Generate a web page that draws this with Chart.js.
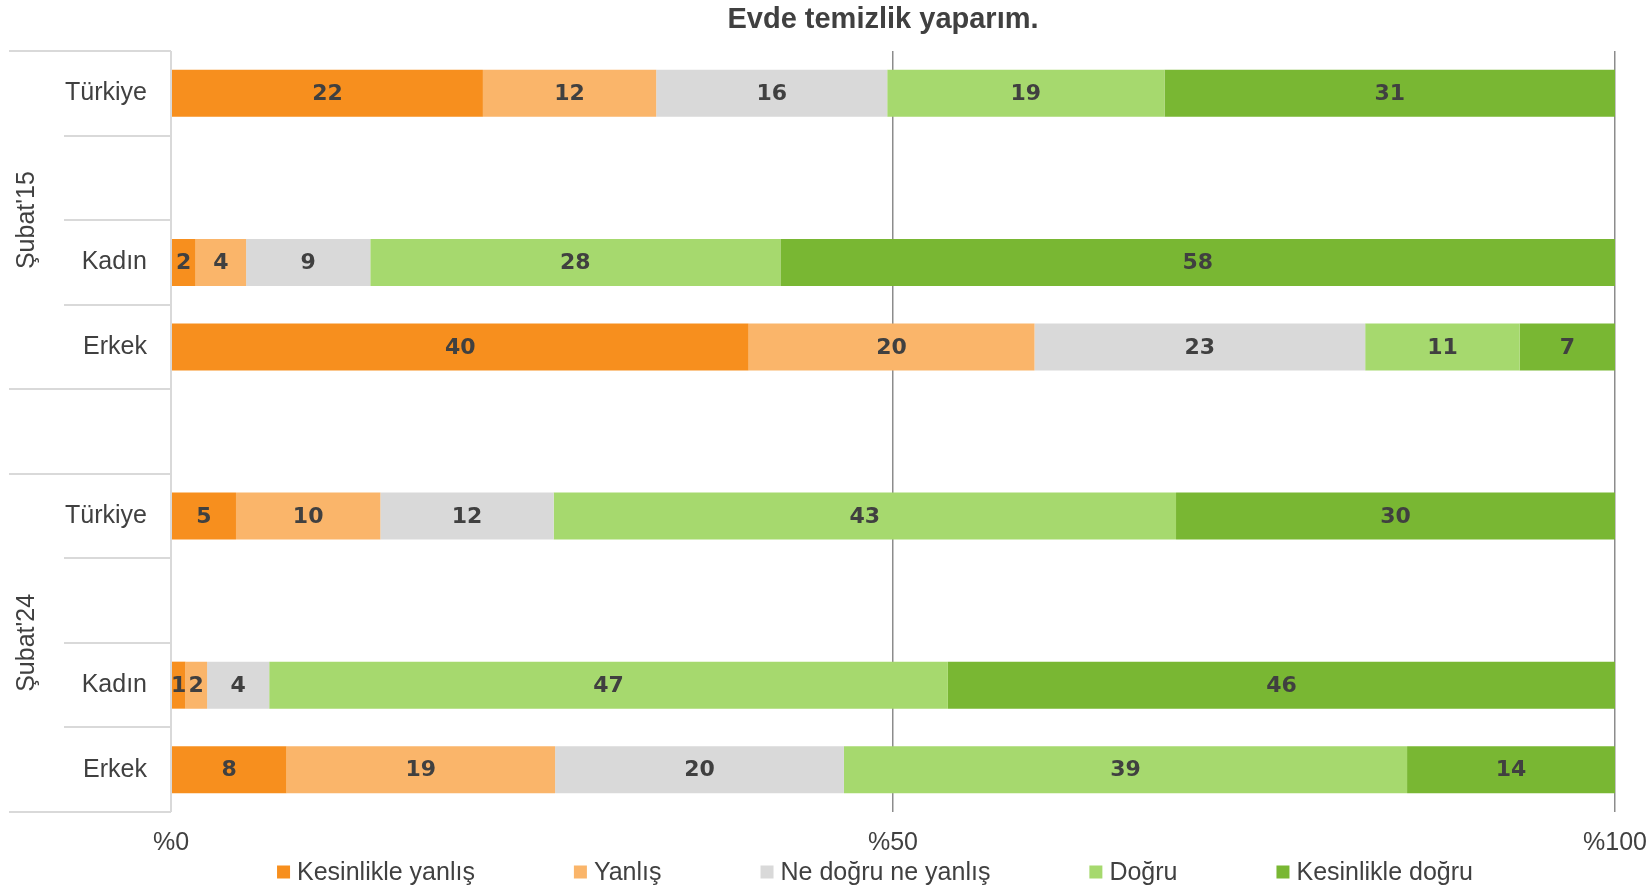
<!DOCTYPE html>
<html lang="tr">
<head>
<meta charset="utf-8">
<title>Evde temizlik yaparım.</title>
<script src="https://cdn.jsdelivr.net/npm/chart.js@4.4.1/dist/chart.umd.min.js"></script>
<style>
  html, body { margin: 0; padding: 0; background: #fff; }
  #wrap { width: 1650px; height: 889px; }
</style>
</head>
<body>
<div id="wrap"><canvas id="chart" width="1650" height="889"></canvas></div>
<script>
// Rows (empty strings are the spacer rows)
const rowLabels = ['Türkiye', '', 'Kadın', 'Erkek', '', 'Türkiye', '', 'Kadın', 'Erkek'];
const groupLabels = ["Şubat'15", "Şubat'24"];
const groupRows = [[0, 3], [5, 8]];
const seriesNames = ['Kesinlikle yanlış', 'Yanlış', 'Ne doğru ne yanlış', 'Doğru', 'Kesinlikle doğru'];
const seriesColors = ['#F78F1E', '#FAB56A', '#D9D9D9', '#A6D96E', '#79B733'];

// Shares in percent
const kesinlikleYanlis = [21.6, null, 1.7, 40.0, null, 4.5, null, 1.0, 8.0];
const yanlis = [12.0, null, 3.5, 19.8, null, 10.0, null, 1.5, 18.6];
const neDogruNeYanlis = [16.0, null, 8.6, 22.9, null, 12.0, null, 4.3, 20.0];
const dogru = [19.2, null, 28.4, 10.7, null, 43.1, null, 47.0, 39.0];
const kesinlikleDogru = [31.2, null, 57.8, 6.6, null, 30.4, null, 46.2, 14.4];

const titleText = 'Evde temizlik yaparım.';
const FONT = '"Liberation Sans", Arial, sans-serif';
const TEXT = '#404040';

const seriesValues = [kesinlikleYanlis, yanlis, neDogruNeYanlis, dogru, kesinlikleDogru];

// Left side table: row separators, group labels
const sideTable = {
    id: 'sideTable',
    afterDraw(chart) {
        const { ctx, chartArea, scales: { y } } = chart;
        const full = [0, 4, 5, 9];
        ctx.save();
        ctx.strokeStyle = '#D9D9D9';
        ctx.lineWidth = 2;
        for (let k = 0; k <= rowLabels.length; k++) {
            const yy = Math.round(y.getPixelForValue(k - 0.5));
            ctx.beginPath();
            ctx.moveTo(full.includes(k) ? 9 : 64, yy);
            ctx.lineTo(chartArea.left, yy);
            ctx.stroke();
        }
        ctx.beginPath();
        ctx.moveTo(chartArea.left, chartArea.top);
        ctx.lineTo(chartArea.left, chartArea.bottom);
        ctx.stroke();

        // group labels, rotated
        ctx.fillStyle = TEXT;
        ctx.font = '25px ' + FONT;
        ctx.textAlign = 'center';
        ctx.textBaseline = 'middle';
        groupRows.forEach((r, i) => {
            const cy = (y.getPixelForValue(r[0] - 0.5) + y.getPixelForValue(r[1] + 0.5)) / 2;
            ctx.save();
            ctx.translate(27, cy);
            ctx.rotate(-Math.PI / 2);
            ctx.fillText(groupLabels[i], 0, 0);
            ctx.restore();
        });
        ctx.restore();
    }
};

// Value labels in the middle of each segment
const segmentLabels = {
    id: 'segmentLabels',
    afterDatasetsDraw(chart) {
        const { ctx } = chart;
        ctx.save();
        ctx.font = 'bold 22px "DejaVu Sans", sans-serif';
        ctx.fillStyle = TEXT;
        ctx.textAlign = 'center';
        ctx.textBaseline = 'middle';
        chart.data.datasets.forEach((ds, i) => {
            chart.getDatasetMeta(i).data.forEach((bar, j) => {
                const v = ds.data[j];
                if (v == null) return;
                ctx.fillText(Math.round(v), (bar.x + bar.base) / 2, bar.y + 1);
            });
        });
        ctx.restore();
    }
};

// Title and legend drawn by hand so they sit where the original has them
const titleLegend = {
    id: 'titleLegend',
    afterDraw(chart) {
        const { ctx } = chart;
        ctx.save();
        ctx.fillStyle = TEXT;
        ctx.textAlign = 'center';
        ctx.textBaseline = 'middle';
        ctx.font = 'bold 29px ' + FONT;
        ctx.fillText(titleText, 883, 20);

        ctx.font = '25px ' + FONT;
        const box = 13, gap = 7, spacing = 99;
        const widths = seriesNames.map(n => box + gap + ctx.measureText(n).width);
        const total = widths.reduce((a, b) => a + b, 0) + spacing * (widths.length - 1);
        let x = 875 - total / 2;
        const ly = 872;
        ctx.textAlign = 'left';
        seriesNames.forEach((n, i) => {
            ctx.fillStyle = seriesColors[i];
            ctx.fillRect(x, ly - box / 2, box, box);
            ctx.fillStyle = TEXT;
            ctx.fillText(n, x + box + gap, ly + 1);
            x += widths[i] + spacing;
        });
        ctx.restore();
    }
};

new Chart(document.getElementById('chart'), {
    type: 'bar',
    data: {
        labels: rowLabels,
        datasets: seriesNames.map((name, i) => ({
            label: name,
            data: seriesValues[i],
            backgroundColor: seriesColors[i],
            borderWidth: 0,
            barPercentage: 0.556,
            categoryPercentage: 1
        }))
    },
    options: {
        indexAxis: 'y',
        responsive: false,
        animation: false,
        layout: { padding: { top: 51, right: 35, bottom: 0, left: 0 } },
        plugins: {
            legend: { display: false },
            title: { display: false },
            tooltip: { enabled: false }
        },
        scales: {
            x: {
                stacked: true,
                min: 0,
                max: 100,
                ticks: {
                    stepSize: 50,
                    maxRotation: 0,
                    padding: 16,
                    color: TEXT,
                    font: { family: FONT, size: 25 },
                    callback: v => '%' + v
                },
                grid: {
                    drawTicks: false,
                    color: c => (c.tick && c.tick.value === 0) ? '#D9D9D9' : '#8C8C8C',
                    lineWidth: c => (c.tick && c.tick.value === 0) ? 2 : 1.5
                },
                border: { display: false },
                afterFit(scale) {
                    scale.height = 77;
                    scale.paddingRight = 0;
                    scale.paddingLeft = 0;
                }
            },
            y: {
                stacked: true,
                ticks: {
                    padding: 24,
                    color: TEXT,
                    font: { family: FONT, size: 25 }
                },
                grid: { display: false, drawTicks: false },
                border: { display: false },
                afterFit(scale) { scale.width = 171; }
            }
        }
    },
    plugins: [sideTable, segmentLabels, titleLegend]
});
</script>
</body>
</html>
